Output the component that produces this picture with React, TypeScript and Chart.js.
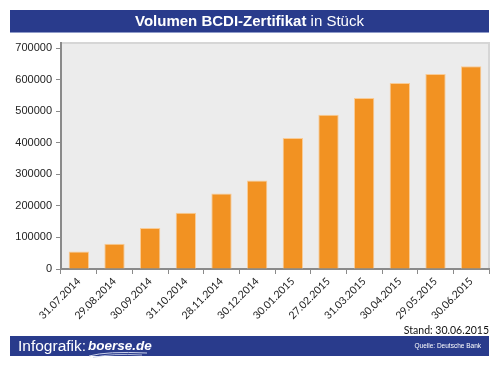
import React, { useEffect, useRef } from "react";
import { Chart, registerables } from "chart.js";

Chart.register(...registerables);

const categories = [
  "31.07.2014", "29.08.2014", "30.09.2014", "31.10.2014", "28.11.2014", "30.12.2014",
  "30.01.2015", "27.02.2015", "31.03.2015", "30.04.2015", "29.05.2015", "30.06.2015",
];
const volumes = [55500, 80000, 130000, 178000, 239500, 280500, 415000, 489000, 541500, 589000, 617500, 642000];
const yTicks = [0, 100000, 200000, 300000, 400000, 500000, 600000, 700000];

const FONT = "'Liberation Sans', Arial, sans-serif";
const LFONT = "Lato, 'Liberation Sans', sans-serif";

const bgPlugin = {
  id: "plotBg",
  beforeDraw(chart: any) {
    const { ctx, chartArea: a } = chart;
    ctx.save();
    ctx.fillStyle = "#ECECEC";
    ctx.fillRect(a.left, a.top, a.right - a.left, a.bottom - a.top);
    ctx.strokeStyle = "#D6D6D6";
    ctx.lineWidth = 2;
    ctx.beginPath();
    ctx.moveTo(a.left, a.top);
    ctx.lineTo(a.right, a.top);
    ctx.lineTo(a.right, a.bottom);
    ctx.stroke();
    ctx.restore();
  },
};

export default function App() {
  const ref = useRef<HTMLCanvasElement>(null);
  useEffect(() => {
    document.body.style.margin = "0";
    const chart = new Chart(ref.current!, {
      type: "bar",
      data: {
        labels: categories,
        datasets: [
          {
            data: volumes,
            backgroundColor: "#F29222",
            borderColor: "#F9CB95",
            borderWidth: 1,
            categoryPercentage: 1,
            barPercentage: 0.57,
          },
        ],
      },
      options: {
        animation: false,
        responsive: false,
        maintainAspectRatio: false,
        layout: { padding: { top: 43, right: 11, left: 0, bottom: 0 } },
        plugins: { legend: { display: false }, tooltip: { enabled: false } },
        scales: {
          x: {
            afterFit: (s: any) => { s.height = 97; },
            grid: { display: true, drawOnChartArea: false, offset: true, tickLength: 5, color: "#8A8A8A", lineWidth: 1 },
            border: { display: true, color: "#8A8A8A", width: 2 },
            ticks: { minRotation: 45, maxRotation: 45, autoSkip: false, color: "#222", font: { family: LFONT, size: 10.5 }, padding: 1 },
          },
          y: {
            min: 0,
            max: 716000,
            afterFit: (s: any) => { s.width = 61; },
            afterBuildTicks: (s: any) => { s.ticks = yTicks.map((v) => ({ value: v })); },
            grid: { display: true, drawOnChartArea: false, tickLength: 5, color: "#8A8A8A", lineWidth: 1 },
            border: { display: true, color: "#8A8A8A", width: 2 },
            ticks: { color: "#222", font: { family: FONT, size: 11 }, padding: 4, callback: (v: any) => String(v) },
          },
        },
      },
      plugins: [bgPlugin],
    });
    return () => chart.destroy();
  }, []);

  return (
    <div style={{ position: "fixed", left: 0, top: 0, width: 500, height: 366, background: "#fff", overflow: "hidden", fontFamily: FONT }}>
      <canvas ref={ref} width={500} height={366} style={{ position: "absolute", left: 0, top: 0, width: 500, height: 366 }} />
      <div style={{ position: "absolute", left: 10, top: 10, width: 479, height: 22, background: "#293B8C", color: "#fff", textAlign: "center", fontSize: 15, lineHeight: "22px", boxShadow: "0 1px 0 #8f9bc9" }}>
        <b>Volumen BCDI-Zertifikat</b> in Stück
      </div>
      <div style={{ position: "absolute", right: 11, top: 324, fontSize: 10.5, fontFamily: LFONT, color: "#111", lineHeight: "12px" }}>Stand: 30.06.2015</div>
      <div style={{ position: "absolute", left: 10, top: 336, width: 479, height: 20, background: "#293B8C", color: "#fff" }}>
        <span style={{ position: "absolute", left: 8, top: 0, fontSize: 15.5, lineHeight: "20px" }}>Infografik:</span>
        <span style={{ position: "absolute", left: 78, top: 0, fontSize: 13.5, lineHeight: "19px", fontWeight: "bold", fontStyle: "italic" }}>boerse.de</span>
        <svg width={70} height={8} style={{ position: "absolute", left: 77, top: 14 }}>
          <path d="M2 6 Q 20 1 60 3" stroke="#c9d0ea" strokeWidth={1} fill="none" />
          <path d="M6 7.5 Q 25 3 55 5" stroke="#c9d0ea" strokeWidth={0.8} fill="none" />
        </svg>
        <span style={{ position: "absolute", right: 8, top: 0, fontSize: 6.5, lineHeight: "20px" }}>Quelle: Deutsche Bank</span>
      </div>
    </div>
  );
}
